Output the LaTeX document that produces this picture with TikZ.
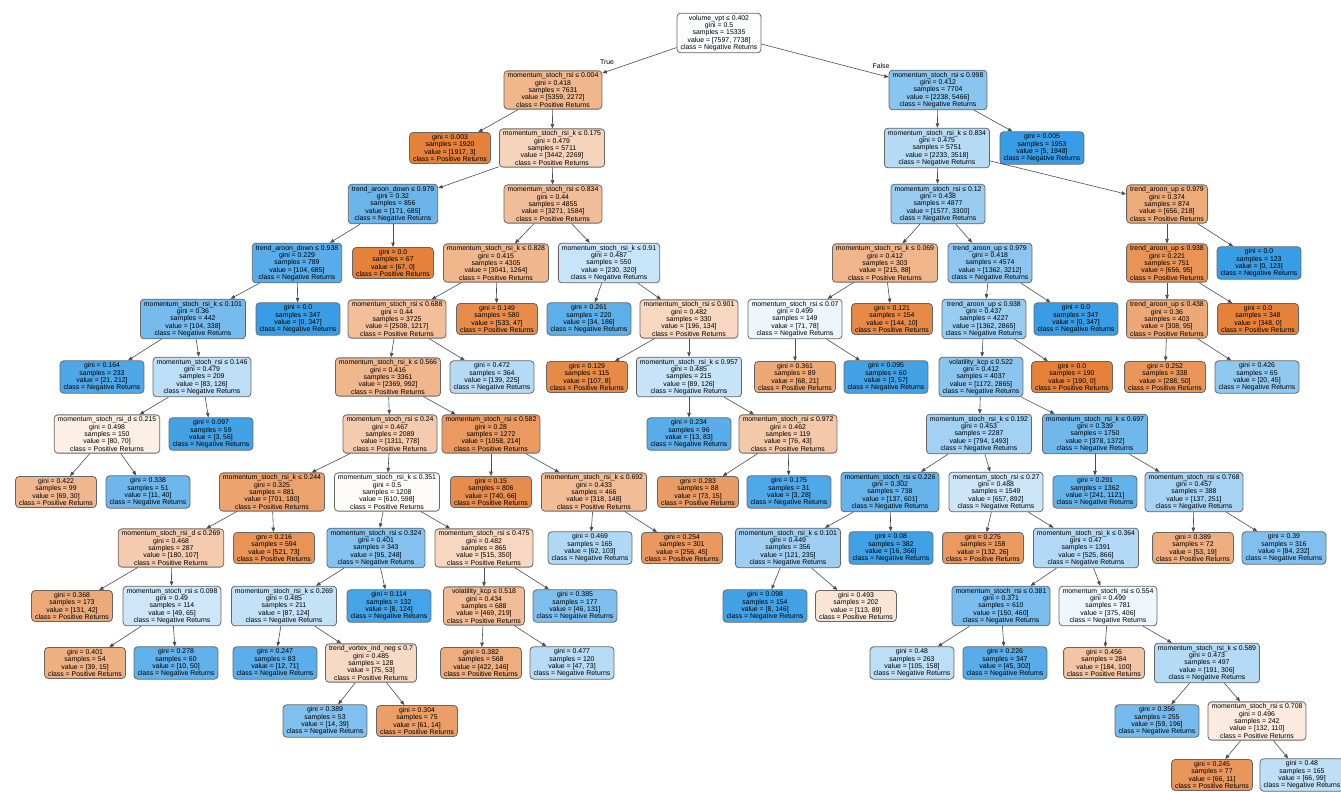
\documentclass[tikz,border=0pt]{standalone}
\usepackage{fontspec}
\setmainfont{Liberation Sans}
\usepackage{tikz}
\usetikzlibrary{arrows.meta}
\definecolor{poscol}{RGB}{229,129,57}
\definecolor{negcol}{RGB}{57,157,229}

\begin{document}
\begin{tikzpicture}[x=1pt,y=-1pt]
		\tikzset{
			box/.style={draw=black!60, line width=0.8pt, rounded corners=3.5pt, inner xsep=3.5pt, inner ysep=2pt, align=center, font=\fontsize{6.9}{7.3}\selectfont},
			vals/.code 2 args={%
				\pgfmathtruncatemacro\boxpct{round(100*(1-min(#1,#2)/max(#1,#2)))}%
				\ifnum#1<#2\relax
					\edef\boxfill{\noexpand\pgfkeysalso{fill=negcol!\boxpct!white}}%
				\else
					\edef\boxfill{\noexpand\pgfkeysalso{fill=poscol!\boxpct!white}}%
				\fi
				\boxfill},
			link/.style={-{Triangle[length=4.5pt,width=3.5pt]}, black!70, line width=0.6pt}
		}
		\useasboundingbox (0,0) rectangle (1341,792);

		% level 0 - 1
		\node (0) at (719,33) [box,vals={7597}{7738}] {volume\_vpt ≤ 0.402\\gini = 0.5\\samples = 15335\\value = [7597, 7738]\\class = Negative Returns};
		\node (1) at (553,90) [box,vals={5359}{2272}] {momentum\_stoch\_rsi ≤ 0.004\\gini = 0.418\\samples = 7631\\value = [5359, 2272]\\class = Positive Returns};
		\node (56) at (938,90) [box,vals={2238}{5466}] {momentum\_stoch\_rsi ≤ 0.998\\gini = 0.412\\samples = 7704\\value = [2238, 5466]\\class = Negative Returns};
		\node at (607,62) [font=\fontsize{6.9}{7.3}\selectfont] {True};
		\node at (881,66) [font=\fontsize{6.9}{7.3}\selectfont] {False};

		% level 2
		\node (2) at (450,148) [box,vals={1917}{3}] {gini = 0.003\\samples = 1920\\value = [1917, 3]\\class = Positive Returns};
		\node (3) at (552,148) [box,vals={3442}{2269}] {momentum\_stoch\_rsi\_k ≤ 0.175\\gini = 0.479\\samples = 5711\\value = [3442, 2269]\\class = Positive Returns};
		\node (57) at (937,148) [box,vals={2233}{3518}] {momentum\_stoch\_rsi\_k ≤ 0.834\\gini = 0.475\\samples = 5751\\value = [2233, 3518]\\class = Negative Returns};
		\node (100) at (1042,148) [box,vals={5}{1948}] {gini = 0.005\\samples = 1953\\value = [5, 1948]\\class = Negative Returns};

		% level 3
		\node (4) at (393,204) [box,vals={171}{685}] {trend\_aroon\_down ≤ 0.979\\gini = 0.32\\samples = 856\\value = [171, 685]\\class = Negative Returns};
		\node (15) at (553,204) [box,vals={3271}{1584}] {momentum\_stoch\_rsi ≤ 0.834\\gini = 0.44\\samples = 4855\\value = [3271, 1584]\\class = Positive Returns};
		\node (58) at (938,204) [box,vals={1577}{3300}] {momentum\_stoch\_rsi ≤ 0.12\\gini = 0.438\\samples = 4877\\value = [1577, 3300]\\class = Negative Returns};
		\node (93) at (1167,204) [box,vals={656}{218}] {trend\_aroon\_up ≤ 0.979\\gini = 0.374\\samples = 874\\value = [656, 218]\\class = Positive Returns};

		% level 4
		\node (5) at (297,263) [box,vals={104}{685}] {trend\_aroon\_down ≤ 0.938\\gini = 0.229\\samples = 789\\value = [104, 685]\\class = Negative Returns};
		\node (14) at (393,263) [box,vals={67}{0}] {gini = 0.0\\samples = 67\\value = [67, 0]\\class = Positive Returns};
		\node (16) at (496,263) [box,vals={3041}{1264}] {momentum\_stoch\_rsi\_k ≤ 0.828\\gini = 0.415\\samples = 4305\\value = [3041, 1264]\\class = Positive Returns};
		\node (47) at (609,263) [box,vals={230}{320}] {momentum\_stoch\_rsi\_k ≤ 0.91\\gini = 0.487\\samples = 550\\value = [230, 320]\\class = Negative Returns};
		\node (59) at (885,263) [box,vals={215}{88}] {momentum\_stoch\_rsi\_k ≤ 0.069\\gini = 0.412\\samples = 303\\value = [215, 88]\\class = Positive Returns};
		\node (64) at (990,263) [box,vals={1362}{3212}] {trend\_aroon\_up ≤ 0.979\\gini = 0.418\\samples = 4574\\value = [1362, 3212]\\class = Negative Returns};
		\node (94) at (1167,263) [box,vals={656}{95}] {trend\_aroon\_up ≤ 0.938\\gini = 0.221\\samples = 751\\value = [656, 95]\\class = Positive Returns};
		\node (99) at (1259,263) [box,vals={0}{123}] {gini = 0.0\\samples = 123\\value = [0, 123]\\class = Negative Returns};

		% level 5
		\node (6) at (193,319) [box,vals={104}{338}] {momentum\_stoch\_rsi\_k ≤ 0.101\\gini = 0.36\\samples = 442\\value = [104, 338]\\class = Negative Returns};
		\node (13) at (298,319) [box,vals={0}{347}] {gini = 0.0\\samples = 347\\value = [0, 347]\\class = Negative Returns};
		\node (17) at (397,319) [box,vals={2508}{1217}] {momentum\_stoch\_rsi ≤ 0.688\\gini = 0.44\\samples = 3725\\value = [2508, 1217]\\class = Positive Returns};
		\node (46) at (497,319) [box,vals={533}{47}] {gini = 0.149\\samples = 580\\value = [533, 47]\\class = Positive Returns};
		\node (48) at (589,319) [box,vals={34}{186}] {gini = 0.261\\samples = 220\\value = [34, 186]\\class = Negative Returns};
		\node (49) at (689,319) [box,vals={196}{134}] {momentum\_stoch\_rsi ≤ 0.901\\gini = 0.482\\samples = 330\\value = [196, 134]\\class = Positive Returns};
		\node (60) at (795,319) [box,vals={71}{78}] {momentum\_stoch\_rsi ≤ 0.07\\gini = 0.499\\samples = 149\\value = [71, 78]\\class = Negative Returns};
		\node (63) at (892,319) [box,vals={144}{10}] {gini = 0.121\\samples = 154\\value = [144, 10]\\class = Positive Returns};
		\node (65) at (984,319) [box,vals={1362}{2865}] {trend\_aroon\_up ≤ 0.938\\gini = 0.437\\samples = 4227\\value = [1362, 2865]\\class = Negative Returns};
		\node (92) at (1076,319) [box,vals={0}{347}] {gini = 0.0\\samples = 347\\value = [0, 347]\\class = Negative Returns};
		\node (95) at (1167,319) [box,vals={308}{95}] {trend\_aroon\_up ≤ 0.438\\gini = 0.36\\samples = 403\\value = [308, 95]\\class = Positive Returns};
		\node (98) at (1258,319) [box,vals={348}{0}] {gini = 0.0\\samples = 348\\value = [348, 0]\\class = Positive Returns};

		% level 6
		\node (7) at (102,377) [box,vals={21}{212}] {gini = 0.164\\samples = 233\\value = [21, 212]\\class = Negative Returns};
		\node (8) at (202,377) [box,vals={83}{126}] {momentum\_stoch\_rsi ≤ 0.146\\gini = 0.479\\samples = 209\\value = [83, 126]\\class = Negative Returns};
		\node (18) at (388,377) [box,vals={2369}{992}] {momentum\_stoch\_rsi\_k ≤ 0.566\\gini = 0.416\\samples = 3361\\value = [2369, 992]\\class = Positive Returns};
		\node (45) at (492,377) [box,vals={139}{225}] {gini = 0.472\\samples = 364\\value = [139, 225]\\class = Negative Returns};
		\node (50) at (587,377) [box,vals={107}{8}] {gini = 0.129\\samples = 115\\value = [107, 8]\\class = Positive Returns};
		\node (51) at (689,377) [box,vals={89}{126}] {momentum\_stoch\_rsi\_k ≤ 0.957\\gini = 0.485\\samples = 215\\value = [89, 126]\\class = Negative Returns};
		\node (61) at (795,377) [box,vals={68}{21}] {gini = 0.361\\samples = 89\\value = [68, 21]\\class = Positive Returns};
		\node (62) at (886,377) [box,vals={3}{57}] {gini = 0.095\\samples = 60\\value = [3, 57]\\class = Negative Returns};
		\node (66) at (981,377) [box,vals={1172}{2865}] {volatility\_kcp ≤ 0.522\\gini = 0.412\\samples = 4037\\value = [1172, 2865]\\class = Negative Returns};
		\node (91) at (1072,377) [box,vals={190}{0}] {gini = 0.0\\samples = 190\\value = [190, 0]\\class = Positive Returns};
		\node (96) at (1165,377) [box,vals={288}{50}] {gini = 0.252\\samples = 338\\value = [288, 50]\\class = Positive Returns};
		\node (97) at (1257,377) [box,vals={20}{45}] {gini = 0.426\\samples = 65\\value = [20, 45]\\class = Negative Returns};

		% level 7
		\node (9) at (107,434) [box,vals={80}{70}] {momentum\_stoch\_rsi\_d ≤ 0.215\\gini = 0.498\\samples = 150\\value = [80, 70]\\class = Positive Returns};
		\node (12) at (211,434) [box,vals={3}{56}] {gini = 0.097\\samples = 59\\value = [3, 56]\\class = Negative Returns};
		\node (19) at (390,434) [box,vals={1311}{778}] {momentum\_stoch\_rsi ≤ 0.24\\gini = 0.467\\samples = 2089\\value = [1311, 778]\\class = Positive Returns};
		\node (40) at (491,434) [box,vals={1058}{214}] {momentum\_stoch\_rsi ≤ 0.582\\gini = 0.28\\samples = 1272\\value = [1058, 214]\\class = Positive Returns};
		\node (52) at (689,434) [box,vals={13}{83}] {gini = 0.234\\samples = 96\\value = [13, 83]\\class = Negative Returns};
		\node (53) at (788,434) [box,vals={76}{43}] {momentum\_stoch\_rsi ≤ 0.972\\gini = 0.462\\samples = 119\\value = [76, 43]\\class = Positive Returns};
		\node (67) at (979,434) [box,vals={794}{1493}] {momentum\_stoch\_rsi\_k ≤ 0.192\\gini = 0.453\\samples = 2287\\value = [794, 1493]\\class = Negative Returns};
		\node (86) at (1095,434) [box,vals={378}{1372}] {momentum\_stoch\_rsi\_k ≤ 0.697\\gini = 0.339\\samples = 1750\\value = [378, 1372]\\class = Negative Returns};

		% level 8
		\node (10) at (56,492) [box,vals={69}{30}] {gini = 0.422\\samples = 99\\value = [69, 30]\\class = Positive Returns};
		\node (11) at (148,492) [box,vals={11}{40}] {gini = 0.338\\samples = 51\\value = [11, 40]\\class = Negative Returns};
		\node (20) at (272,492) [box,vals={701}{180}] {momentum\_stoch\_rsi\_k ≤ 0.244\\gini = 0.325\\samples = 881\\value = [701, 180]\\class = Positive Returns};
		\node (27) at (387,492) [box,vals={610}{598}] {momentum\_stoch\_rsi\_k ≤ 0.351\\gini = 0.5\\samples = 1208\\value = [610, 598]\\class = Positive Returns};
		\node (41) at (491,492) [box,vals={740}{66}] {gini = 0.15\\samples = 806\\value = [740, 66]\\class = Positive Returns};
		\node (42) at (594,492) [box,vals={318}{148}] {momentum\_stoch\_rsi\_k ≤ 0.692\\gini = 0.433\\samples = 466\\value = [318, 148]\\class = Positive Returns};
		\node (54) at (698,492) [box,vals={73}{15}] {gini = 0.283\\samples = 88\\value = [73, 15]\\class = Positive Returns};
		\node (55) at (789,492) [box,vals={3}{28}] {gini = 0.175\\samples = 31\\value = [3, 28]\\class = Negative Returns};
		\node (68) at (890,492) [box,vals={137}{601}] {momentum\_stoch\_rsi ≤ 0.226\\gini = 0.302\\samples = 738\\value = [137, 601]\\class = Negative Returns};
		\node (73) at (996,492) [box,vals={657}{892}] {momentum\_stoch\_rsi ≤ 0.27\\gini = 0.488\\samples = 1549\\value = [657, 892]\\class = Negative Returns};
		\node (87) at (1095,492) [box,vals={241}{1121}] {gini = 0.291\\samples = 1362\\value = [241, 1121]\\class = Negative Returns};
		\node (88) at (1194,492) [box,vals={137}{251}] {momentum\_stoch\_rsi ≤ 0.768\\gini = 0.457\\samples = 388\\value = [137, 251]\\class = Negative Returns};

		% level 9
		\node (21) at (171,548) [box,vals={180}{107}] {momentum\_stoch\_rsi\_d ≤ 0.269\\gini = 0.468\\samples = 287\\value = [180, 107]\\class = Positive Returns};
		\node (26) at (274,548) [box,vals={521}{73}] {gini = 0.216\\samples = 594\\value = [521, 73]\\class = Positive Returns};
		\node (28) at (376,548) [box,vals={95}{248}] {momentum\_stoch\_rsi ≤ 0.324\\gini = 0.401\\samples = 343\\value = [95, 248]\\class = Negative Returns};
		\node (35) at (484,548) [box,vals={515}{350}] {momentum\_stoch\_rsi ≤ 0.475\\gini = 0.482\\samples = 865\\value = [515, 350]\\class = Positive Returns};
		\node (43) at (590,548) [box,vals={62}{103}] {gini = 0.469\\samples = 165\\value = [62, 103]\\class = Negative Returns};
		\node (44) at (682,548) [box,vals={256}{45}] {gini = 0.254\\samples = 301\\value = [256, 45]\\class = Positive Returns};
		\node (69) at (788,548) [box,vals={121}{235}] {momentum\_stoch\_rsi\_k ≤ 0.101\\gini = 0.449\\samples = 356\\value = [121, 235]\\class = Negative Returns};
		\node (72) at (891,548) [box,vals={16}{366}] {gini = 0.08\\samples = 382\\value = [16, 366]\\class = Negative Returns};
		\node (74) at (983,548) [box,vals={132}{26}] {gini = 0.275\\samples = 158\\value = [132, 26]\\class = Positive Returns};
		\node (75) at (1086,548) [box,vals={525}{866}] {momentum\_stoch\_rsi\_k ≤ 0.364\\gini = 0.47\\samples = 1391\\value = [525, 866]\\class = Negative Returns};
		\node (89) at (1193,548) [box,vals={53}{19}] {gini = 0.389\\samples = 72\\value = [53, 19]\\class = Positive Returns};
		\node (90) at (1284,548) [box,vals={84}{232}] {gini = 0.39\\samples = 316\\value = [84, 232]\\class = Negative Returns};

		% level 10
		\node (22) at (72,606) [box,vals={131}{42}] {gini = 0.368\\samples = 173\\value = [131, 42]\\class = Positive Returns};
		\node (23) at (172,606) [box,vals={49}{65}] {momentum\_stoch\_rsi ≤ 0.098\\gini = 0.49\\samples = 114\\value = [49, 65]\\class = Negative Returns};
		\node (29) at (284,606) [box,vals={87}{124}] {momentum\_stoch\_rsi\_k ≤ 0.269\\gini = 0.485\\samples = 211\\value = [87, 124]\\class = Negative Returns};
		\node (34) at (389,606) [box,vals={8}{124}] {gini = 0.114\\samples = 132\\value = [8, 124]\\class = Negative Returns};
		\node (36) at (484,606) [box,vals={469}{219}] {volatility\_kcp ≤ 0.518\\gini = 0.434\\samples = 688\\value = [469, 219]\\class = Positive Returns};
		\node (39) at (575,606) [box,vals={46}{131}] {gini = 0.385\\samples = 177\\value = [46, 131]\\class = Negative Returns};
		\node (70) at (765,606) [box,vals={8}{146}] {gini = 0.098\\samples = 154\\value = [8, 146]\\class = Negative Returns};
		\node (71) at (856,606) [box,vals={113}{89}] {gini = 0.493\\samples = 202\\value = [113, 89]\\class = Positive Returns};
		\node (76) at (1001,606) [box,vals={150}{460}] {momentum\_stoch\_rsi ≤ 0.381\\gini = 0.371\\samples = 610\\value = [150, 460]\\class = Negative Returns};
		\node (79) at (1108,606) [box,vals={375}{406}] {momentum\_stoch\_rsi ≤ 0.554\\gini = 0.499\\samples = 781\\value = [375, 406]\\class = Negative Returns};

		% level 11
		\node (24) at (85,663) [box,vals={39}{15}] {gini = 0.401\\samples = 54\\value = [39, 15]\\class = Positive Returns};
		\node (25) at (176,663) [box,vals={10}{50}] {gini = 0.278\\samples = 60\\value = [10, 50]\\class = Negative Returns};
		\node (30) at (275,663) [box,vals={12}{71}] {gini = 0.247\\samples = 83\\value = [12, 71]\\class = Negative Returns};
		\node (31) at (371,663) [box,vals={75}{53}] {trend\_vortex\_ind\_neg ≤ 0.7\\gini = 0.485\\samples = 128\\value = [75, 53]\\class = Positive Returns};
		\node (37) at (481,663) [box,vals={422}{146}] {gini = 0.382\\samples = 568\\value = [422, 146]\\class = Positive Returns};
		\node (38) at (572,663) [box,vals={47}{73}] {gini = 0.477\\samples = 120\\value = [47, 73]\\class = Negative Returns};
		\node (77) at (912,663) [box,vals={105}{158}] {gini = 0.48\\samples = 263\\value = [105, 158]\\class = Negative Returns};
		\node (78) at (1005,663) [box,vals={45}{302}] {gini = 0.226\\samples = 347\\value = [45, 302]\\class = Negative Returns};
		\node (80) at (1104,663) [box,vals={184}{100}] {gini = 0.456\\samples = 284\\value = [184, 100]\\class = Positive Returns};
		\node (81) at (1207,663) [box,vals={191}{306}] {momentum\_stoch\_rsi\_k ≤ 0.589\\gini = 0.473\\samples = 497\\value = [191, 306]\\class = Negative Returns};

		% level 12 - 13
		\node (32) at (325,721) [box,vals={14}{39}] {gini = 0.389\\samples = 53\\value = [14, 39]\\class = Negative Returns};
		\node (33) at (417,721) [box,vals={61}{14}] {gini = 0.304\\samples = 75\\value = [61, 14]\\class = Positive Returns};
		\node (82) at (1157,721) [box,vals={59}{196}] {gini = 0.356\\samples = 255\\value = [59, 196]\\class = Negative Returns};
		\node (83) at (1257,721) [box,vals={132}{110}] {momentum\_stoch\_rsi ≤ 0.708\\gini = 0.496\\samples = 242\\value = [132, 110]\\class = Positive Returns};
		\node (84) at (1212,775) [box,vals={66}{11}] {gini = 0.245\\samples = 77\\value = [66, 11]\\class = Positive Returns};
		\node (85) at (1302,775) [box,vals={66}{99}] {gini = 0.48\\samples = 165\\value = [66, 99]\\class = Negative Returns};

		%Aristas
		\path[link]
		(0) edge (1)  (0) edge (56)
		(1) edge (2)  (1) edge (3)
		(3) edge (4)  (3) edge (15)
		(4) edge (5)  (4) edge (14)
		(5) edge (6)  (5) edge (13)
		(6) edge (7)  (6) edge (8)
		(8) edge (9)  (8) edge (12)
		(9) edge (10) (9) edge (11)
		(15) edge (16) (15) edge (47)
		(16) edge (17) (16) edge (46)
		(17) edge (18) (17) edge (45)
		(18) edge (19) (18) edge (40)
		(19) edge (20) (19) edge (27)
		(20) edge (21) (20) edge (26)
		(21) edge (22) (21) edge (23)
		(23) edge (24) (23) edge (25)
		(27) edge (28) (27) edge (35)
		(28) edge (29) (28) edge (34)
		(29) edge (30) (29) edge (31)
		(31) edge (32) (31) edge (33)
		(35) edge (36) (35) edge (39)
		(36) edge (37) (36) edge (38)
		(40) edge (41) (40) edge (42)
		(42) edge (43) (42) edge (44)
		(47) edge (48) (47) edge (49)
		(49) edge (50) (49) edge (51)
		(51) edge (52) (51) edge (53)
		(53) edge (54) (53) edge (55)
		(56) edge (57) (56) edge (100)
		(57) edge (58) (57) edge (93)
		(58) edge (59) (58) edge (64)
		(59) edge (60) (59) edge (63)
		(60) edge (61) (60) edge (62)
		(64) edge (65) (64) edge (92)
		(65) edge (66) (65) edge (91)
		(66) edge (67) (66) edge (86)
		(67) edge (68) (67) edge (73)
		(68) edge (69) (68) edge (72)
		(69) edge (70) (69) edge (71)
		(73) edge (74) (73) edge (75)
		(75) edge (76) (75) edge (79)
		(76) edge (77) (76) edge (78)
		(79) edge (80) (79) edge (81)
		(81) edge (82) (81) edge (83)
		(83) edge (84) (83) edge (85)
		(86) edge (87) (86) edge (88)
		(88) edge (89) (88) edge (90)
		(93) edge (94) (93) edge (99)
		(94) edge (95) (94) edge (98)
		(95) edge (96) (95) edge (97);
	\end{tikzpicture}
\end{document}
